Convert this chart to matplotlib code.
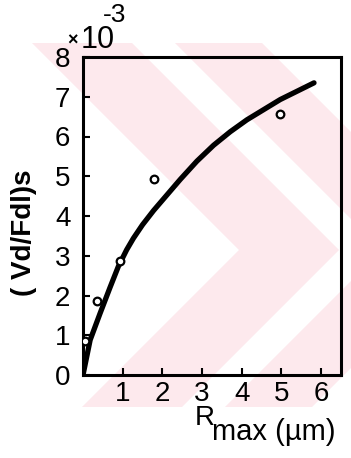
import numpy as np
import matplotlib
matplotlib.use('Agg')
import matplotlib.pyplot as plt
from matplotlib.patches import Polygon

# measured points (open circles)
pts_x = [0.05, 0.35, 0.92, 1.79, 4.97]
pts_y = [0.85, 1.85, 2.87, 4.94, 6.57]

# fitted curve
curve_x = [0, 0.18, 0.43, 0.68, 0.89, 1.10, 1.27, 1.50, 1.78, 2.45, 2.87, 3.29, 3.71, 4.13, 4.97, 5.82]
curve_y = [0, 0.88, 1.55, 2.20, 2.73, 3.15, 3.44, 3.78, 4.14, 4.92, 5.38, 5.78, 6.12, 6.42, 6.93, 7.35]

xticks = [1, 2, 3, 4, 5, 6]
yticks = [0, 1, 2, 3, 4, 5, 6, 7, 8]

W, H = 351, 458
fnt = ['Liberation Sans', 'DejaVu Sans']
plt.rcParams['font.family'] = fnt

fig = plt.figure(figsize=(W / 100, H / 100), dpi=100)

# pale pink watermark (two ">" chevrons), pixel coords -> figure coords
def chevron(x0, w, top=43, apex=250, bot=407):
    d1 = apex - top
    d2 = bot - apex
    pts = [(x0, top), (x0 + w, top), (x0 + w + d1, apex), (x0 + w + d1 - d2, bot),
           (x0 + d1 - d2, bot), (x0 + d1, apex)]
    return [(x / W, 1 - y / H) for x, y in pts]

pink = '#fde9ed'
for x0, w in [(32, 100), (175, 87)]:
    fig.patches.append(Polygon(chevron(x0, w), closed=True, transform=fig.transFigure,
                               facecolor=pink, edgecolor='none', zorder=-10))

ax = fig.add_axes([83 / W, 1 - 375 / H, (341 - 83) / W, (375 - 57) / H])
ax.patch.set_alpha(0)

ax.plot(curve_x, curve_y, color='black', lw=3.8, solid_capstyle='round',
        solid_joinstyle='round', zorder=3)
ax.plot(pts_x, pts_y, 'o', mfc='white', mec='black', ms=5.5, mew=1.6, zorder=4)

ax.set_xlim(0, 6.5)
ax.set_ylim(0, 8)
ax.set_xticks(xticks)
ax.set_yticks(yticks)
ax.tick_params(direction='in', length=5, width=1.5, labelsize=20)
ax.tick_params(axis='x', pad=4)
ax.tick_params(axis='y', pad=9)
for s in ax.spines.values():
    s.set_linewidth(2.2)

fig.text(72 / W, 1 - 41 / H, '\u00d7', fontsize=13, fontweight='bold', ha='center', va='center')
fig.text(81 / W, 1 - 40 / H, '10', fontsize=22, ha='left', va='center')
fig.text(103 / W, 1 - 15 / H, '-3', fontsize=19, ha='left', va='center')

fig.text(24 / W, 1 - 233 / H, '( Vd/Fdl)s', fontsize=20, fontweight='bold',
         rotation=90, ha='center', va='center')

fig.text(195 / W, 1 - 418 / H, 'R', fontsize=20, ha='left', va='center')
fig.text(212 / W, 1 - 432 / H, 'max (\u00b5m)', fontsize=21, ha='left', va='center')

fig.savefig('out.png', dpi=100)
